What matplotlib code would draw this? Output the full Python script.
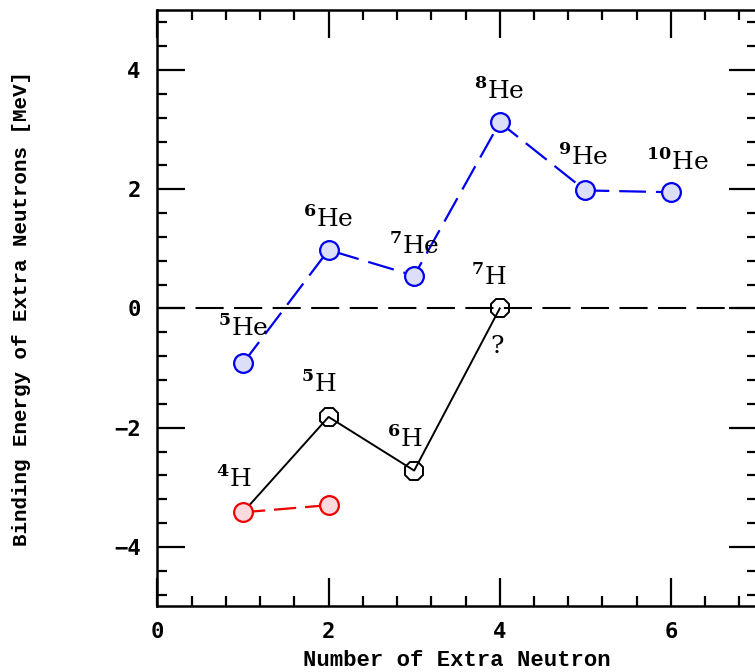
import matplotlib
matplotlib.use("Agg")
import matplotlib.pyplot as plt
from matplotlib.ticker import MultipleLocator

plt.rcParams["mathtext.fontset"] = "custom"
plt.rcParams["mathtext.bf"] = "DejaVu Serif:bold"
plt.rcParams["mathtext.rm"] = "DejaVu Serif"

# Data
he_n = [1, 2, 3, 4, 5, 6]
he_e = [-0.92, 0.98, 0.55, 3.12, 1.98, 1.95]
he_labels = ["5", "6", "7", "8", "9", "10"]

h_n = [1, 2, 3, 4]
h_e = [-3.42, -1.82, -2.72, 0.0]
h_labels = ["4", "5", "6", "7"]

red_n = [1, 2]
red_e = [-3.42, -3.30]

fig = plt.figure(figsize=(7.55, 6.72), dpi=100)
ax = fig.add_axes([0.2085, 0.0975, 0.7935, 0.887])
ax.set_xlim(0, 7)
ax.set_ylim(-5, 5)

# zero line
ax.axhline(0, color="black", lw=1.5, dashes=(13.5, 5), zorder=1)

# He series
ax.plot(he_n, he_e, color="#0000ee", lw=1.6, dashes=(12, 4.5), zorder=2)
ax.plot(he_n, he_e, ls="none", marker="o", ms=13.5, mfc="#dcdff7",
        mec="#0000ee", mew=1.6, zorder=3)

# H series
ax.plot(h_n, h_e, color="black", lw=1.4, zorder=4)
ax.plot(h_n[1:], h_e[1:], ls="none", marker="8", ms=14.5, mfc="none",
        mec="black", mew=1.4, zorder=4)

# red series
ax.plot(red_n, red_e, color="#ee0000", lw=1.6, dashes=(10, 4), zorder=5)
ax.plot(red_n, red_e, ls="none", marker="o", ms=13.5, mfc="#fadadd",
        mec="#ee0000", mew=1.6, zorder=6)

serif = "DejaVu Serif"
lab_fs = 18

he_off = [(0.0, 0.45), (0.0, 0.38), (0.0, 0.36), (-0.01, 0.39), (-0.02, 0.42), (0.07, 0.37)]
for n, e, m, (dx, dy) in zip(he_n, he_e, he_labels, he_off):
    ax.text(n + dx, e + dy, r"$^{\mathbf{%s}}$He" % m, family=serif,
            fontsize=lab_fs, ha="center", va="baseline")

h_off = [(-0.11, 0.43), (-0.12, 0.41), (-0.11, 0.40), (-0.13, 0.40)]
for n, e, m, (dx, dy) in zip(h_n, h_e, h_labels, h_off):
    ax.text(n + dx, e + dy, r"$^{\mathbf{%s}}$H" % m, family=serif,
            fontsize=lab_fs, ha="center", va="baseline")

ax.text(h_n[3] - 0.03, h_e[3] - 0.44, "?", family=serif, fontsize=lab_fs,
        ha="center", va="top")

# ticks
ax.xaxis.set_major_locator(MultipleLocator(2))
ax.xaxis.set_minor_locator(MultipleLocator(0.4))
ax.yaxis.set_major_locator(MultipleLocator(2))
ax.yaxis.set_minor_locator(MultipleLocator(0.4))
ax.tick_params(which="both", direction="in", top=True, right=True, width=1.6)
ax.tick_params(which="major", length=20)
ax.tick_params(which="minor", length=7)
for sp in ax.spines.values():
    sp.set_linewidth(1.8)

mono = "DejaVu Sans Mono"
ax.set_xticks([0, 2, 4, 6])
ax.set_xticklabels(["0", "2", "4", "6"])
ax.set_yticks([-4, -2, 0, 2, 4])
ax.set_yticklabels(["\u22124", "\u22122", "0", "2", "4"])
for t in ax.get_xticklabels() + ax.get_yticklabels():
    t.set_family(mono)
    t.set_fontweight("bold")
    t.set_fontsize(16)
ax.tick_params(axis="x", pad=11)
ax.tick_params(axis="y", pad=12)

ax.set_xlabel("Number of Extra Neutron", family="Liberation Mono",
              fontweight="bold", fontsize=16, labelpad=6)
ax.set_ylabel("Binding Energy of Extra Neutrons [MeV]", family="Liberation Mono",
              fontweight="bold", fontsize=15, labelpad=60)

fig.savefig("out.png", dpi=100)
